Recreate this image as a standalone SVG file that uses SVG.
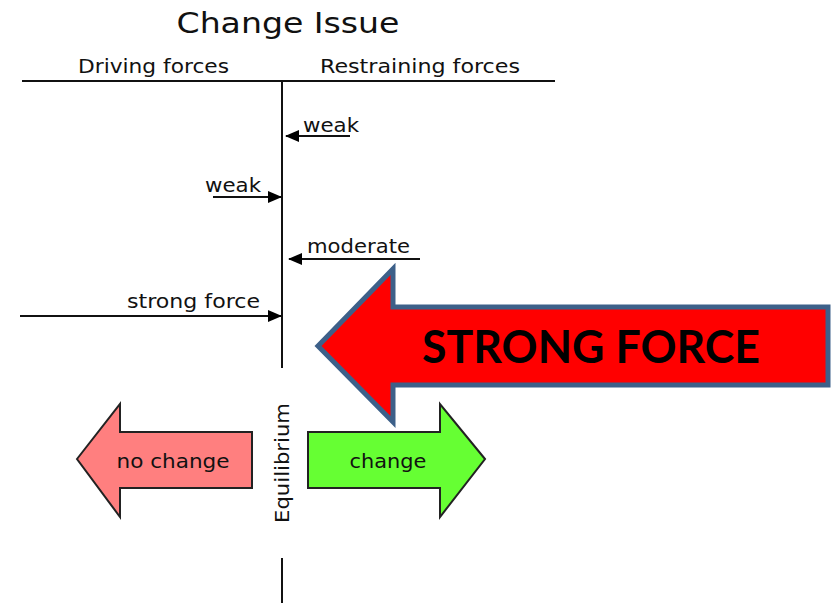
<svg xmlns="http://www.w3.org/2000/svg" width="831" height="603" viewBox="0 0 831 603">
<defs>
<style>
.t{font-family:"DejaVu Sans","Liberation Sans",sans-serif;fill:#111;}
.ln{stroke:#111;stroke-width:2;fill:none;}
.big{font-family:Lato,"Open Sans","Liberation Sans",sans-serif;font-weight:bold;fill:#000;}
</style>
<marker id="ah" markerWidth="14" markerHeight="12" refX="13" refY="6" orient="auto" markerUnits="userSpaceOnUse">
<path d="M0,0 L14,6 L0,12 Z" fill="#000"/>
</marker>
</defs>
<rect width="831" height="603" fill="#fff"/>
<g id="title">
<text class="t" x="288" y="33" font-size="29" text-anchor="middle" textLength="223" lengthAdjust="spacingAndGlyphs">Change Issue</text>
</g>
<g id="headers">
<text class="t" x="78" y="73" font-size="20" textLength="151" lengthAdjust="spacingAndGlyphs">Driving forces</text>
<text class="t" x="320" y="73" font-size="20" textLength="200" lengthAdjust="spacingAndGlyphs">Restraining forces</text>
</g>
<g id="axes">
<line class="ln" x1="22" y1="81" x2="555" y2="81"/>
<line class="ln" x1="282" y1="81" x2="282" y2="368"/>
<line class="ln" x1="282" y1="558" x2="282" y2="603"/>
</g>
<g id="connectors">
<line class="ln" x1="350" y1="136" x2="286" y2="136" marker-end="url(#ah)"/>
<line class="ln" x1="213" y1="197" x2="281" y2="197" marker-end="url(#ah)"/>
<line class="ln" x1="420" y1="259" x2="289" y2="259" marker-end="url(#ah)"/>
<line class="ln" x1="20" y1="316" x2="281" y2="316" marker-end="url(#ah)"/>
</g>
<g id="labels">
<text class="t" x="303" y="132" font-size="19" textLength="56" lengthAdjust="spacingAndGlyphs">weak</text>
<text class="t" x="205" y="192" font-size="19" textLength="56" lengthAdjust="spacingAndGlyphs">weak</text>
<text class="t" x="307" y="253" font-size="19" textLength="103" lengthAdjust="spacingAndGlyphs">moderate</text>
<text class="t" x="127" y="308" font-size="19" textLength="133" lengthAdjust="spacingAndGlyphs">strong force</text>
</g>
<g id="strong-force">
<polygon points="318,346 393,269 393,307 828,307 828,385 393,385 393,422" fill="#ff0000" stroke="#3d6089" stroke-width="5" stroke-linejoin="miter"/>
<text class="big" x="591" y="363" font-size="46" text-anchor="middle" textLength="338" lengthAdjust="spacingAndGlyphs">STRONG FORCE</text>
</g>
<g id="no-change">
<polygon points="77,459 120,404 120,432 252,432 252,488 120,488 120,517" fill="#ff7f7f" stroke="#222" stroke-width="2"/>
<text class="t" x="173" y="468" font-size="19" text-anchor="middle" textLength="113" lengthAdjust="spacingAndGlyphs">no change</text>
</g>
<g id="change">
<polygon points="485,459 440,404 440,432 308,432 308,488 440,488 440,517" fill="#66ff33" stroke="#222" stroke-width="2"/>
<text class="t" x="388" y="468" font-size="19" text-anchor="middle" textLength="77" lengthAdjust="spacingAndGlyphs">change</text>
</g>
<g id="equilibrium">
<text class="t" transform="translate(289,463) rotate(-90)" x="0" y="0" font-size="19" text-anchor="middle" textLength="120" lengthAdjust="spacingAndGlyphs">Equilibrium</text>
</g>
</svg>
